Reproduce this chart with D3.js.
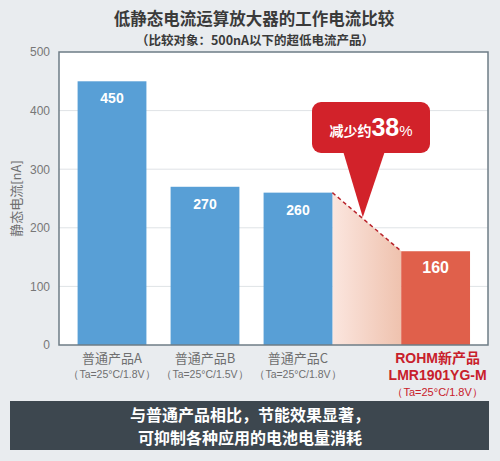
<!DOCTYPE html>
<html>
<head>
<meta charset="utf-8">
<script src="https://cdn.jsdelivr.net/npm/d3@7"></script>
<style>
  body { margin: 0; background: #e9ecef; }
  svg { display: block; font-family: "Liberation Sans", "Noto Sans CJK SC", sans-serif; }
</style>
</head>
<body>
<div id="chart"></div>
<script>
// chart data
const products = ["普通产品A", "普通产品B", "普通产品C"];
const conditions = ["（Ta=25°C/1.8V）", "（Ta=25°C/1.5V）", "（Ta=25°C/1.8V）"];
const currents = [450, 270, 260];
const newProduct = ["ROHM新产品", "LMR1901YG-M", "（Ta=25°C/1.8V）"];
const newCurrent = 160;
const yTicks = [0, 100, 200, 300, 400, 500];
const reduction = "38";

const width = 500;
const height = 461;
const margin = { top: 52, right: 12, bottom: 116, left: 59 };

const svg = d3
  .select("#chart")
  .append("svg")
  .attr("width", width)
  .attr("height", height);

svg.append("rect").attr("width", width).attr("height", height).attr("fill", "#e9ecef");

const y = d3
  .scaleLinear()
  .domain([0, 500])
  .range([height - margin.bottom, margin.top]);

// three ordinary products share a band scale, the new one sits two bands after C
const x = d3
  .scaleBand()
  .domain(products)
  .range([margin.left, margin.left + 292])
  .paddingInner(0.26)
  .paddingOuter(0.2);
const bw = x.bandwidth();
const xNew = x(products[2]) + 2 * bw;

// title
svg
  .append("text")
  .attr("x", 254)
  .attr("y", 25)
  .attr("text-anchor", "middle")
  .style("font-family", "Noto Sans CJK SC")
  .style("font-weight", "bold")
  .style("font-size", "16.5px")
  .attr("fill", "#3a3a3a")
  .text("低静态电流运算放大器的工作电流比较");

svg
  .append("text")
  .attr("x", 255)
  .attr("y", 45)
  .attr("text-anchor", "middle")
  .style("font-family", "Noto Sans CJK SC")
  .style("font-weight", "bold")
  .style("font-size", "12.5px")
  .attr("fill", "#3a3a3a")
  .text("（比较对象：500nA以下的超低电流产品）");

// plot area
svg
  .append("rect")
  .attr("x", margin.left)
  .attr("y", margin.top)
  .attr("width", width - margin.right - margin.left)
  .attr("height", y(0) - margin.top)
  .attr("fill", "#fff");

// gridlines
svg
  .append("g")
  .selectAll("line")
  .data(yTicks.slice(1, -1))
  .join("line")
  .attr("x1", margin.left)
  .attr("x2", width - margin.right)
  .attr("y1", (d) => y(d))
  .attr("y2", (d) => y(d))
  .attr("stroke", "#dfe3e6")
  .attr("stroke-width", 1);

// y axis labels
const yAxis = svg
  .append("g")
  .attr("transform", `translate(${margin.left},0)`)
  .call(d3.axisLeft(y).tickValues(yTicks).tickSize(0).tickPadding(9));
yAxis.select(".domain").remove();
yAxis
  .selectAll("text")
  .style("font-family", "Liberation Sans")
  .style("font-size", "12px")
  .attr("fill", "#777");

svg
  .append("text")
  .attr("transform", `translate(21,${y(250)}) rotate(-90)`)
  .attr("text-anchor", "middle")
  .style("font-family", "Noto Sans CJK SC")
  .style("font-size", "13px")
  .attr("fill", "#6f6f6f")
  .text("静态电流[nA]");

// gradient connector between C and the new product
const defs = svg.append("defs");
const grad = defs
  .append("linearGradient")
  .attr("id", "conn")
  .attr("x1", "0%")
  .attr("x2", "100%");
grad.append("stop").attr("offset", "0%").attr("stop-color", "#fbe6df");
grad.append("stop").attr("offset", "100%").attr("stop-color", "#efc2ae");

const cRight = x(products[2]) + bw;
svg
  .append("path")
  .attr(
    "d",
    d3.line()([
      [cRight, y(currents[2])],
      [xNew, y(newCurrent)],
      [xNew, y(0)],
      [cRight, y(0)],
    ]) + "Z"
  )
  .attr("fill", "url(#conn)");

// bars
svg
  .append("g")
  .selectAll("rect")
  .data(currents)
  .join("rect")
  .attr("x", (d, i) => x(products[i]))
  .attr("y", (d) => y(d))
  .attr("width", bw)
  .attr("height", (d) => y(0) - y(d))
  .attr("fill", "#589fd6");

svg
  .append("rect")
  .attr("x", xNew)
  .attr("y", y(newCurrent))
  .attr("width", bw)
  .attr("height", y(0) - y(newCurrent))
  .attr("fill", "#e0604b");

// value labels
svg
  .append("g")
  .selectAll("text")
  .data(currents.concat([newCurrent]))
  .join("text")
  .attr("x", (d, i) => (i < 3 ? x(products[i]) : xNew) + bw / 2)
  .attr("y", (d) => y(d) + 22)
  .attr("text-anchor", "middle")
  .style("font-family", "Liberation Sans")
  .style("font-weight", "bold")
  .style("font-size", (d, i) => (i < 3 ? "14px" : "16px"))
  .attr("fill", "#fff")
  .text((d) => d);

// dashed reduction line
svg
  .append("line")
  .attr("x1", cRight)
  .attr("y1", y(currents[2]))
  .attr("x2", xNew)
  .attr("y2", y(newCurrent))
  .attr("stroke", "#b8232b")
  .attr("stroke-width", 1.5)
  .attr("stroke-dasharray", "4,3");

// plot border
svg
  .append("rect")
  .attr("x", margin.left)
  .attr("y", margin.top)
  .attr("width", width - margin.right - margin.left)
  .attr("height", y(0) - margin.top)
  .attr("fill", "none")
  .attr("stroke", "#6e7c86")
  .attr("stroke-width", 1.5);

// callout bubble
const tipX = (cRight + xNew) / 2 - 4;
const tipY = y((currents[2] + newCurrent) / 2 + 8);
const bx = 312, by = 102, bwid = 118, bh = 51;
svg
  .append("path")
  .attr("d", d3.line()([[bx + 31, by + bh - 2], [bx + 73, by + bh - 2], [tipX, tipY]]) + "Z")
  .attr("fill", "#d2222a");
svg
  .append("rect")
  .attr("x", bx)
  .attr("y", by)
  .attr("width", bwid)
  .attr("height", bh)
  .attr("rx", 9)
  .attr("fill", "#d2222a");

const callout = svg
  .append("text")
  .attr("x", bx + bwid / 2)
  .attr("y", by + 34)
  .attr("text-anchor", "middle")
  .attr("fill", "#fff");
callout
  .append("tspan")
  .style("font-family", "Noto Sans CJK SC")
  .style("font-weight", "bold")
  .style("font-size", "14px")
  .text("减少约");
callout
  .append("tspan")
  .style("font-family", "Liberation Sans")
  .style("font-weight", "bold")
  .style("font-size", "25px")
  .text(reduction);
callout
  .append("tspan")
  .style("font-family", "Liberation Sans")
  .style("font-size", "15px")
  .text("%");

// x labels
const xl = svg.append("g");
xl.selectAll("text.name")
  .data(products)
  .join("text")
  .attr("class", "name")
  .attr("x", (d) => x(d) + bw / 2)
  .attr("y", y(0) + 18)
  .attr("text-anchor", "middle")
  .style("font-family", "Noto Sans CJK SC")
  .style("font-size", "13px")
  .attr("fill", "#6f6f6f")
  .text((d) => d);
xl.selectAll("text.cond")
  .data(conditions)
  .join("text")
  .attr("class", "cond")
  .attr("x", (d, i) => x(products[i]) + bw / 2)
  .attr("y", y(0) + 33)
  .attr("text-anchor", "middle")
  .style("font-family", "Liberation Sans")
  .style("font-size", "10.5px")
  .attr("fill", "#6f6f6f")
  .text((d) => d);

xl.selectAll("text.newp")
  .data(newProduct)
  .join("text")
  .attr("class", "newp")
  .attr("x", xNew + bw / 2 + 2)
  .attr("y", (d, i) => y(0) + 18 + i * 16.5)
  .attr("text-anchor", "middle")
  .style("font-family", (d, i) => (i < 2 ? "Liberation Sans, Noto Sans CJK SC" : "Liberation Sans"))
  .style("font-weight", (d, i) => (i < 2 ? "bold" : "normal"))
  .style("font-size", (d, i) => (i < 2 ? "14px" : "11px"))
  .attr("fill", "#c8202b")
  .text((d) => d);

// bottom message box
svg
  .append("rect")
  .attr("x", 10)
  .attr("y", 401)
  .attr("width", 479)
  .attr("height", 49)
  .attr("fill", "#3d474f");

svg
  .append("g")
  .selectAll("text")
  .data(["与普通产品相比，节能效果显著，", "可抑制各种应用的电池电量消耗"])
  .join("text")
  .attr("x", 250)
  .attr("y", (d, i) => 421 + i * 23)
  .attr("text-anchor", "middle")
  .style("font-family", "Noto Sans CJK SC")
  .style("font-weight", "bold")
  .style("font-size", "16px")
  .attr("fill", "#fff")
  .text((d) => d);
</script>
</body>
</html>
